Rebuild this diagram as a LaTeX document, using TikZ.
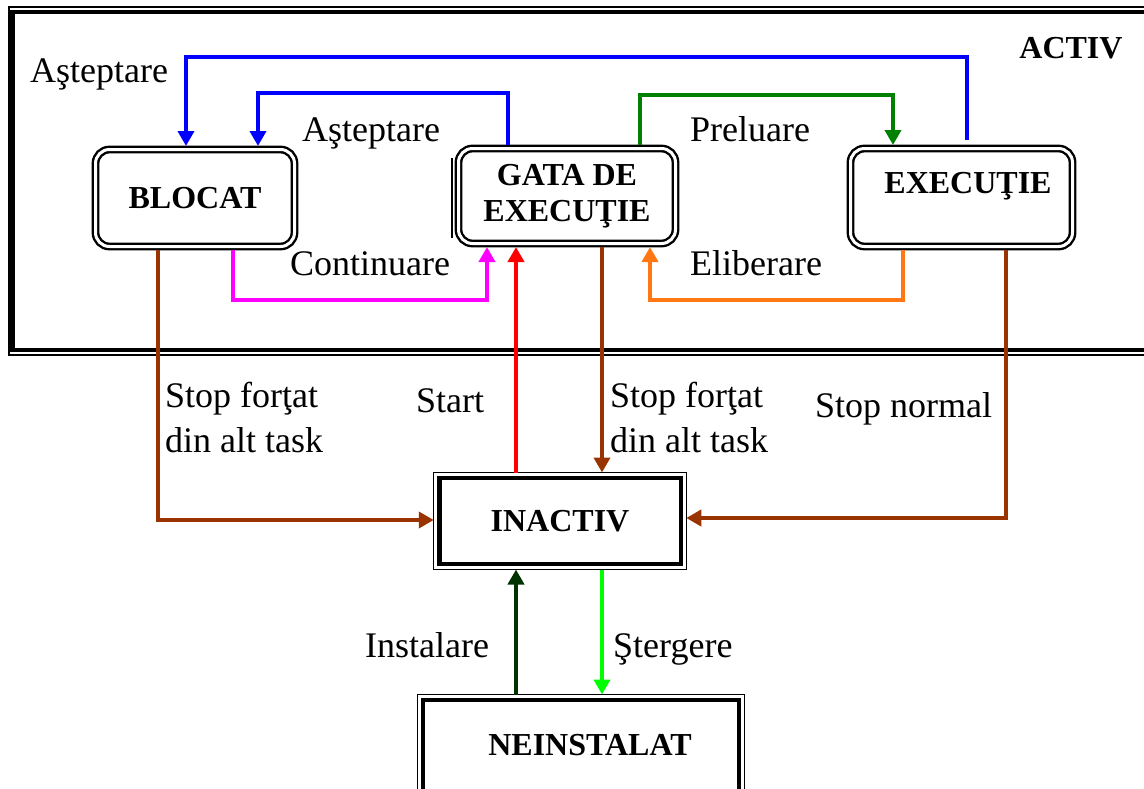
\documentclass[tikz,border=0pt]{standalone}
\usepackage{fontspec}
\setmainfont{Liberation Serif}
\usetikzlibrary{arrows.meta}

\definecolor{cblue}{RGB}{0,0,255}
\definecolor{cgreen}{RGB}{0,128,0}
\definecolor{cmagenta}{RGB}{255,0,255}
\definecolor{corange}{RGB}{255,120,20}
\definecolor{cred}{RGB}{255,0,0}
\definecolor{cbrown}{RGB}{153,51,0}
\definecolor{cdkgreen}{RGB}{0,51,0}
\definecolor{clime}{RGB}{0,255,0}

\tikzset{
  conn/.style={line width=3.8pt, -{Triangle[length=15pt,width=16pt]}},
  statebox/.style={draw, double, double distance=3pt, line width=2.4pt,
    rounded corners=14pt, inner sep=0pt, outer sep=3.5pt,
    font=\fontsize{32}{36}\selectfont\bfseries, align=center},
  squarebox/.style={draw, line width=4.5pt, inner sep=0pt, outer sep=5.5pt,
    font=\fontsize{32}{36}\selectfont\bfseries},
  boldtxt/.style={inner sep=0pt, anchor=base, font=\fontsize{32}{36}\selectfont\bfseries},
  lbl/.style={inner sep=0pt, anchor=base west, align=left,
    font=\fontsize{36}{45}\selectfont},
}

\begin{document}
\begin{tikzpicture}[x=1pt, y=-1pt]
\useasboundingbox (0,0) rectangle (1144,788);
\clip (0,0) rectangle (1144,788);

% ACTIV frame: thin outer line, thick inner line, open to the right
\draw[line width=1.2pt] (9,7) rectangle (1170,355);
\draw[line width=4.5pt] (12.5,12) rectangle (1170,350);
\node[boldtxt] (activ) at (1071,58) {ACTIV};

% states
\node[statebox, minimum width=199pt, minimum height=97pt] (blo) at (195,198) {BLOCAT};
\node[statebox, minimum width=217pt, minimum height=95pt] (gata) at (567,196) {GATA DE\\EXECUŢIE};
\draw[line width=2pt] (452,158) -- (452,238);
\node[statebox, minimum width=222pt, minimum height=98pt] (exe) at (961.5,197.5) {};
\node[boldtxt] (exetxt) at (968,193) {EXECUŢIE};

\node[squarebox, minimum width=241.5pt, minimum height=86pt] (inac) at (560,521) {INACTIV};
\draw[line width=1.2pt] (inac.north west) rectangle (inac.south east);

\node[squarebox, minimum width=316pt, minimum height=100pt] (nein) at (581,750) {};
\draw[line width=1.2pt] (nein.north west) rectangle (nein.south east);
\node[boldtxt] (neintxt) at (590,755) {NEINSTALAT};

% transitions inside ACTIV
\draw[conn, cblue, shorten <=5pt] (exe.north -| 967,0) -- (967,57) -- (186,57) -- (blo.north -| 186,0);
\draw[conn, cblue] (gata.north -| 508,0) -- (508,93) -- (258,93) -- (blo.north -| 258,0);
\draw[conn, cgreen] (gata.north -| 640,0) -- (640,95) -- (893,95) -- (exe.north -| 893,0);
\draw[conn, cmagenta] (blo.south -| 233,0) -- (233,300) -- (487,300) -- (gata.south -| 487,0);
\draw[conn, corange] (exe.south -| 903,0) -- (903,300) -- (650,300) -- (gata.south -| 650,0);

% transitions to and from INACTIV
\draw[conn, cred] (inac.north -| 516,0) -- (gata.south -| 516,0);
\draw[conn, cbrown] (gata.south -| 602,0) -- (inac.north -| 602,0);
\draw[conn, cbrown] (blo.south -| 158,0) -- (158,520) -- (inac.west |- 0,520);
\draw[conn, cbrown] (exe.south -| 1006,0) -- (1006,518) -- (inac.east |- 0,518);
\draw[conn, cdkgreen] (nein.north -| 516,0) -- (inac.south -| 516,0);
\draw[conn, clime] (inac.south -| 602,0) -- (nein.north -| 602,0);

% labels (two-line labels are placed by their last baseline)
\node[lbl] (l1) at (30,82) {Aşteptare};
\node[lbl] (l2) at (302,141) {Aşteptare};
\node[lbl] (l3) at (690,141) {Preluare};
\node[lbl] (l4) at (290,275) {Continuare};
\node[lbl] (l5) at (690,275) {Eliberare};
\node[lbl] (l6) at (165,452) {Stop forţat\\din alt task};
\node[lbl] (l7) at (416,412) {Start};
\node[lbl] (l8) at (610,452) {Stop forţat\\din alt task};
\node[lbl] (l9) at (815,417) {Stop normal};
\node[lbl] (l10) at (365,657) {Instalare};
\node[lbl] (l11) at (613,657) {Ştergere};
\end{tikzpicture}
\end{document}
